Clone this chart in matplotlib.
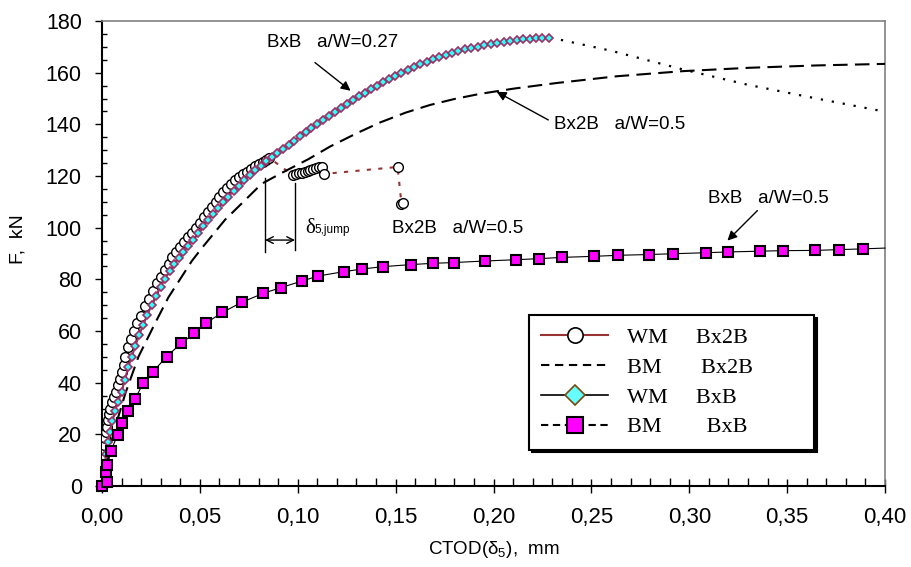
import numpy as np
import matplotlib
matplotlib.use("Agg")
import matplotlib.pyplot as plt
from matplotlib.lines import Line2D
from matplotlib.ticker import MultipleLocator, FuncFormatter

plt.rcParams['font.family'] = ['Liberation Sans', 'DejaVu Sans']
plt.rcParams['mathtext.fontset'] = 'custom'
plt.rcParams['mathtext.rm'] = 'Liberation Sans'
plt.rcParams['mathtext.it'] = 'Liberation Sans'

# WM Bx2B (open circles) - main curve, pop-in cluster, after jump
wm2b_x = [0.0, 0.0003, 0.0005, 0.0006, 0.0007, 0.0008, 0.0009, 0.001, 0.0012, 0.0015,
          0.002, 0.0025, 0.003, 0.0035, 0.004, 0.005, 0.006, 0.007, 0.008, 0.009,
          0.010, 0.011, 0.012, 0.0135, 0.015, 0.0165, 0.018, 0.020, 0.022, 0.024,
          0.026, 0.028, 0.030, 0.032, 0.034, 0.036, 0.038, 0.040, 0.042, 0.044,
          0.046, 0.048, 0.050, 0.052, 0.054, 0.056, 0.058, 0.060, 0.062, 0.064,
          0.066, 0.068, 0.070, 0.072, 0.074, 0.076, 0.078, 0.080, 0.082, 0.084, 0.0855,
          0.0975, 0.099, 0.1005, 0.102, 0.1035, 0.105, 0.1065, 0.108, 0.1095, 0.111, 0.1125, 0.1135,
          0.151, 0.153, 0.154]
wm2b_y = [0, 2, 4, 6, 8, 10, 12, 14, 16, 18.5,
          21, 23, 25.5, 28, 30, 32.5, 34.5, 36.5, 39, 41.5,
          44, 47, 50, 54, 57, 60, 63, 66, 69.5, 72.5,
          75.5, 78.5, 81, 83.5, 86, 88.5, 90.5, 92.5, 94.5, 96.3,
          98, 100, 102, 104, 106, 108, 110, 112, 113.7, 115.3,
          117, 118.3, 119.5, 120.6, 121.7, 122.8, 123.8, 124.7, 125.5, 126.3, 127,
          120.3, 120.6, 121, 121.3, 121.6, 122, 122.3, 122.6, 123, 123.3, 123.5, 120.8,
          123.5, 109.2, 109.6]

# BM Bx2B (long dashes)
bm2b_x = [0, 0.004, 0.008, 0.012, 0.0186, 0.0271, 0.0339, 0.0458, 0.0509, 0.0628,
          0.0816, 0.0926, 0.1054, 0.1165, 0.130, 0.142, 0.155, 0.1676, 0.180, 0.1931,
          0.2101, 0.2323, 0.2629, 0.297, 0.331, 0.3651, 0.40]
bm2b_y = [0, 15, 26, 36, 50, 63, 73, 87, 92, 103,
          117, 121.5, 126.5, 131.4, 136.5, 140.7, 144.5, 147.5, 149.8, 151.8,
          153.8, 156.0, 158.6, 160.6, 161.9, 162.8, 163.4]

# WM BxB (diamonds)
wmb_x = [0.0, 0.0005, 0.001, 0.0015, 0.0022, 0.003, 0.004, 0.0052, 0.0066, 0.0082,
         0.010, 0.0116, 0.0134, 0.0152, 0.017, 0.019, 0.021, 0.0232, 0.0254, 0.0276,
         0.0299, 0.0322, 0.0345, 0.0368, 0.0392, 0.0416, 0.044, 0.0465, 0.049, 0.0515,
         0.0541, 0.0567, 0.0593, 0.0619, 0.0645, 0.0672, 0.0699, 0.0727, 0.0755, 0.0782,
         0.081, 0.0838, 0.0866, 0.0895, 0.0924, 0.0953, 0.0982, 0.1011, 0.104, 0.107,
         0.110, 0.113, 0.116, 0.119, 0.122, 0.125, 0.1281, 0.1312, 0.1343, 0.1374,
         0.1405, 0.1436, 0.1467, 0.1498, 0.153, 0.1562, 0.1594, 0.1626, 0.1658, 0.169,
         0.1722, 0.1755, 0.1788, 0.1821, 0.1854, 0.1887, 0.192, 0.1953, 0.1986, 0.2019,
         0.2052, 0.2085, 0.2118, 0.2151, 0.2184, 0.2217, 0.225, 0.2285]
wmb_y = [0.0, 2, 5, 8.5, 12.5, 17, 21, 25, 29, 32.5,
         36.5, 41, 46, 50, 54.2, 58.5, 62.3, 66.3, 70.2, 73.6,
         77, 80.2, 83.2, 85.8, 88.2, 90.5, 92.8, 95.3, 97.9, 100.5,
         102.9, 105.2, 107.5, 109.8, 112.0, 114.2, 116.3, 118.3, 120.3, 122.2,
         124.0, 125.7, 127.3, 128.9, 130.5, 132.1, 133.7, 135.3, 136.9, 138.5,
         140.1, 141.7, 143.3, 144.9, 146.5, 148.0, 149.5, 150.9, 152.3, 153.7,
         155.0, 156.3, 157.5, 158.7, 159.9, 161.1, 162.3, 163.3, 164.2, 165.1,
         166.0, 166.8, 167.6, 168.3, 169.0, 169.6, 170.1, 170.6, 171.1, 171.5,
         171.9, 172.3, 172.6, 172.9, 173.1, 173.3, 173.5, 173.6]

# continuation after the last WM BxB point (dotted)
tail_x = [0.2289, 0.26, 0.297, 0.33, 0.365, 0.40]
tail_y = [173.6, 168.5, 161.2, 155.3, 150.0, 144.9]

# BM BxB (squares), last point is where the line leaves the frame
bmb_x = [0, 0.0024, 0.0022, 0.0024, 0.0044, 0.008, 0.0102, 0.0131, 0.0167, 0.0211,
         0.0259, 0.033, 0.0404, 0.0472, 0.053, 0.0615, 0.0714, 0.0824, 0.0914, 0.1024,
         0.1105, 0.1238, 0.133, 0.1434, 0.1577, 0.1689, 0.1798, 0.1958, 0.2115, 0.2232,
         0.2351, 0.2511, 0.2636, 0.2793, 0.2915, 0.3084, 0.32, 0.3363, 0.3477, 0.3642,
         0.3767, 0.3889, 0.40]
bmb_y = [0, 1.7, 5.5, 8.1, 13.5, 19.7, 24.3, 29, 33.5, 39.8,
         44.1, 50.1, 55.2, 59.1, 63.0, 67.2, 71.1, 74.6, 76.8, 79.4,
         81.3, 83.0, 84.0, 84.9, 85.7, 86.2, 86.5, 87.1, 87.6, 88.0,
         88.5, 88.9, 89.3, 89.6, 89.9, 90.3, 90.6, 90.9, 91.1, 91.2,
         91.5, 91.8, 92.1]

labels = ["WM     Bx2B", "BM       Bx2B", "WM     BxB", "BM        BxB"]

RED = '#993333'
PURPLE = '#993366'
CYAN = '#33ffff'
MAGENTA = '#ff00ff'

fig = plt.figure(figsize=(9.11, 5.67), dpi=100)
ax = fig.add_axes([102 / 911, 1 - 486 / 567, 783 / 911, 465 / 567])

ax.plot(wm2b_x, wm2b_y, color=RED, lw=1.5, dashes=(2, 3.5), marker='o', ms=7,
        mfc='white', mec='black', mew=1, zorder=3)
ax.plot(bm2b_x, bm2b_y, color='black', lw=1.5, dashes=(7, 3.5), zorder=4)
ax.plot(tail_x, tail_y, color='black', lw=1.6, dashes=(1, 4), zorder=4)
ax.plot(wmb_x, wmb_y, color=PURPLE, lw=1.5, marker='D', ms=3.8,
        mfc=CYAN, mec=PURPLE, mew=1.2, zorder=5)
ax.plot(bmb_x, bmb_y, color='black', lw=0.8, marker='s', ms=7.2,
        mfc=MAGENTA, mec='black', mew=1.5, markevery=list(range(len(bmb_x) - 1)),
        zorder=6, clip_on=False)

ax.set_xlim(0, 0.40)
ax.set_ylim(0, 180)
ax.xaxis.set_major_locator(MultipleLocator(0.05))
ax.xaxis.set_minor_locator(MultipleLocator(0.01))
ax.yaxis.set_major_locator(MultipleLocator(20))
ax.yaxis.set_minor_locator(MultipleLocator(5))
ax.xaxis.set_major_formatter(FuncFormatter(lambda v, p: f"{v:.2f}".replace('.', ',')))

ax.tick_params(axis='x', which='major', direction='inout', length=10, width=1, labelsize=16, pad=10)
ax.tick_params(axis='x', which='minor', direction='in', length=5.5, width=1)
ax.tick_params(axis='y', which='major', direction='out', length=5, width=1, labelsize=15.5, pad=9.5)
ax.tick_params(axis='y', which='minor', direction='in', length=3.6, width=1)

for s in ['left', 'bottom']:
    ax.spines[s].set_linewidth(1.5)
    ax.spines[s].set_color('black')
for s in ['top', 'right']:
    ax.spines[s].set_linewidth(1.2)
    ax.spines[s].set_color('#808080')

ax.set_xlabel(r'CTOD(δ$_5$),  mm', fontsize=13.5, labelpad=8)
ax.set_ylabel('F,  kN', fontsize=14, labelpad=14)
ax.yaxis.label.set_y(0.53)

# annotations
arrow = dict(arrowstyle='-|>', color='black', lw=1, mutation_scale=14, shrinkA=0, shrinkB=0)
ax.text(0.0843, 169.8, 'BxB   a/W=0.27', fontsize=13.5)
ax.annotate('', xy=(0.127, 153.0), xytext=(0.1088, 163.9), arrowprops=arrow)
ax.text(0.2309, 138.2, 'Bx2B   a/W=0.5', fontsize=13.5)
ax.annotate('', xy=(0.2016, 152.6), xytext=(0.228, 141.7), arrowprops=arrow)
ax.text(0.3097, 109.4, 'BxB   a/W=0.5', fontsize=13.5)
ax.annotate('', xy=(0.3195, 95.0), xytext=(0.3348, 106.6), arrowprops=arrow)
ax.text(0.148, 98.1, 'Bx2B   a/W=0.5', fontsize=13.5)

# pop-in jump dimension
ax.plot([0.0833, 0.0833], [90.7, 119.1], color='black', lw=1)
ax.plot([0.0986, 0.0986], [91.5, 117.3], color='black', lw=1)
ax.annotate('', xy=(0.0833, 95.2), xytext=(0.0986, 95.2),
            arrowprops=dict(arrowstyle='<->', color='black', lw=1, mutation_scale=12,
                            shrinkA=0, shrinkB=0))
ax.text(0.1037, 97.9, 'δ', fontsize=15, family=['Liberation Serif', 'DejaVu Serif'])
ax.text(0.1085, 97.9, '5,jump', fontsize=8.5)

handles = [
    Line2D([], [], color=RED, lw=1.5, marker='o', ms=11, mfc='white', mec='black', mew=1.2),
    Line2D([], [], color='black', lw=1.5, dashes=(4, 2.7)),
    Line2D([], [], color='black', lw=1.2, marker='D', ms=10, mfc='#66ffff', mec='#7a4a10', mew=1.2),
    Line2D([], [], color='black', lw=1.5, dashes=(3.5, 2.2), marker='s', ms=11.5,
           mfc=MAGENTA, mec='black', mew=1.5),
]
leg = ax.legend(handles, labels, loc='upper left', bbox_to_anchor=(0.5453, 0.0677, 0.364, 0.3),
                mode='expand', prop={'family': 'Liberation Serif', 'size': 16},
                frameon=True, fancybox=False, framealpha=1, edgecolor='black',
                shadow={'facecolor': 'black', 'edgecolor': 'black', 'alpha': 1},
                borderpad=0.55, labelspacing=0.42, handlelength=3.0, handletextpad=0.85,
                borderaxespad=0)
leg.get_frame().set_linewidth(1.5)
leg.set_zorder(10)

fig.savefig('out.png', dpi=100)
